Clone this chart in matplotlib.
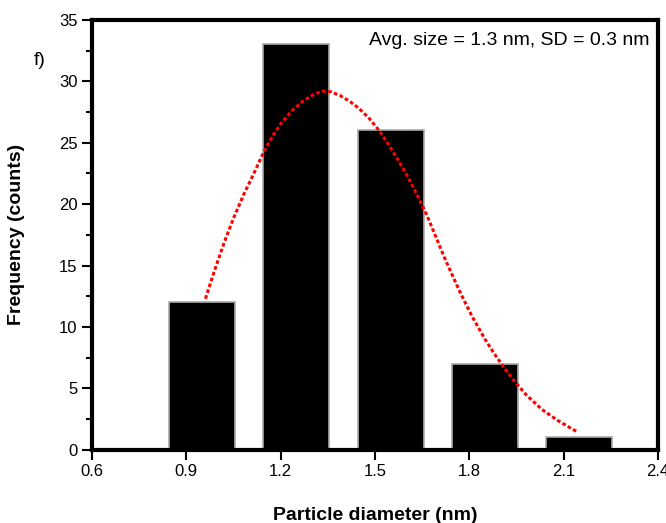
import matplotlib
matplotlib.use("Agg")
import matplotlib.pyplot as plt
from matplotlib.ticker import MultipleLocator

plt.rcParams['font.family'] = ['Liberation Sans', 'DejaVu Sans']

# histogram bins (nm) and counts
bin_centers = [0.95, 1.25, 1.55, 1.85, 2.15]
counts = [12, 33, 26, 7, 1]
bar_width = 0.21

# fitted distribution curve
fit_x = [0.961, 0.990, 1.021, 1.051, 1.083, 1.115, 1.142, 1.173, 1.205, 1.236,
         1.267, 1.295, 1.332, 1.359, 1.388, 1.418, 1.449, 1.481, 1.513, 1.542,
         1.571, 1.603, 1.633, 1.665, 1.696, 1.725, 1.757, 1.773, 1.810, 1.850,
         1.880, 1.910, 1.940, 1.980, 2.030, 2.080, 2.120, 2.140]
fit_y = [12.3, 14.6, 16.9, 18.9, 20.8, 22.5, 24.0, 25.5, 26.7, 27.6,
         28.3, 28.8, 29.2, 29.15, 28.85, 28.4, 27.8, 27.0, 26.0, 24.9,
         23.7, 22.3, 20.8, 19.1, 17.2, 15.4, 13.6, 12.7, 10.8, 9.0,
         7.8, 6.7, 5.7, 4.5, 3.3, 2.4, 1.8, 1.5]

fig = plt.figure(figsize=(6.66, 5.23), dpi=100)
ax = fig.add_axes([0.138, 0.14, 0.85, 0.822])

ax.bar(bin_centers, counts, width=bar_width, color='black',
       edgecolor='#aaaaaa', linewidth=1.2, zorder=2)
ax.plot(fit_x, fit_y, color='red', linestyle=(0, (1.2, 0.8)), linewidth=2.2, zorder=3)

ax.set_xlim(0.6, 2.4)
ax.set_ylim(0, 35)
ax.xaxis.set_major_locator(MultipleLocator(0.3))
ax.yaxis.set_major_locator(MultipleLocator(5))
ax.yaxis.set_minor_locator(MultipleLocator(2.5))
ax.tick_params(axis='both', which='major', direction='out', length=7, width=1.5,
               labelsize=12)
ax.tick_params(axis='y', which='minor', direction='out', length=4, width=1.5)
for s in ax.spines.values():
    s.set_linewidth(3)

ax.set_xlabel("Particle diameter (nm)", fontsize=14, fontweight='bold', labelpad=20)
ax.set_ylabel("Frequency (counts)", fontsize=14, fontweight='bold', labelpad=24)
ax.text(0.985, 0.972, "Avg. size = 1.3 nm, SD = 0.3 nm", transform=ax.transAxes,
        ha='right', va='top', fontsize=14)
fig.text(0.06, 0.885, "f)", fontsize=14, ha='center', va='center')

fig.savefig("out.png", dpi=100)
